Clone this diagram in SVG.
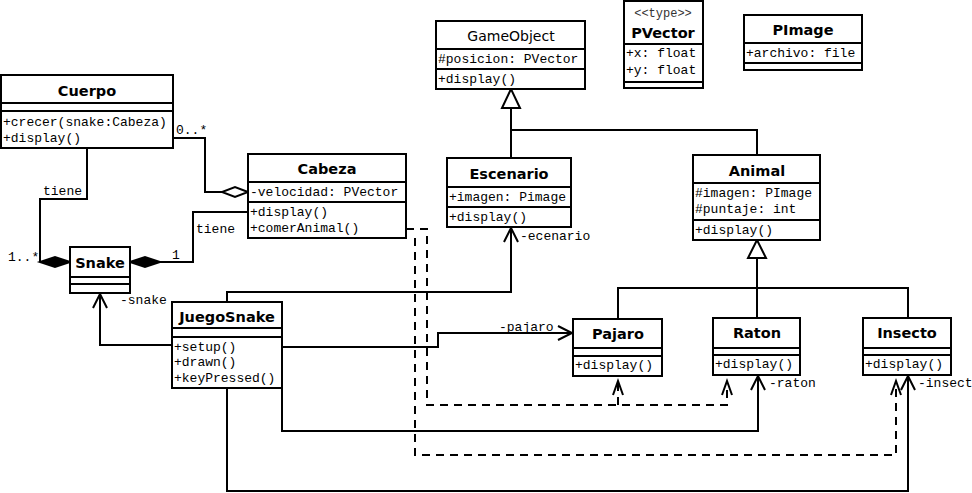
<svg xmlns="http://www.w3.org/2000/svg" width="972" height="493" viewBox="0 0 972 493">
<style>
.box{fill:#fff;stroke:#000;stroke-width:2}
.sep{stroke:#000;stroke-width:2}
.t{font-family:"DejaVu Sans",Verdana,sans-serif;font-weight:bold;font-size:14.5px;text-anchor:middle;fill:#000}
.tn{font-family:"DejaVu Sans",Verdana,sans-serif;font-size:14px;text-anchor:middle;fill:#000}
.m{font-family:"Liberation Mono","Courier New",monospace;font-size:13px;fill:#000}
.st{font-family:"Liberation Mono","Courier New",monospace;font-size:12px;fill:#333;text-anchor:middle}
.ln{fill:none;stroke:#000;stroke-width:2}
.dl{fill:none;stroke:#000;stroke-width:2;stroke-dasharray:8,6}
.hol{fill:#fff;stroke:#000;stroke-width:2}
.fil{fill:#000;stroke:#000;stroke-width:2}
</style>
<defs>
<marker id="open" markerUnits="userSpaceOnUse" markerWidth="30" markerHeight="30" refX="0" refY="0" orient="auto" viewBox="-20 -10 30 20" overflow="visible">
<path d="M-14,-7 L0,0 L-14,7" fill="none" stroke="#000" stroke-width="2"/>
</marker>
<marker id="dep" markerUnits="userSpaceOnUse" markerWidth="30" markerHeight="30" refX="0" refY="0" orient="auto" viewBox="-20 -10 30 20" overflow="visible">
<path d="M-14,-5 L0,0 L-14,5" fill="none" stroke="#000" stroke-width="2" stroke-dasharray="none"/>
</marker>
</defs>

<g id="connectors">
<!-- generalization GameObject -->
<path class="ln" d="M511,108 V158 M511,130 H757 V155"/>
<polygon class="hol" points="511,89 502,108 520,108"/>
<!-- generalization Animal -->
<path class="ln" d="M757,258 V318 M618,319 V288 H908 V318"/>
<polygon class="hol" points="757,240 748,258 766,258"/>
<!-- Cuerpo - Snake composition -->
<path class="ln" d="M87,148 V199 H40 V262"/>
<polygon class="fil" points="70,262 55,257 40,262 55,267"/>
<!-- Cabeza - Snake composition -->
<path class="ln" d="M248,212 H193 V262 H160"/>
<polygon class="fil" points="130,262 145,257 160,262 145,267"/>
<!-- Cuerpo - Cabeza aggregation -->
<path class="ln" d="M172,138 H205 V192 H222"/>
<polygon class="hol" points="248,192 235,187 222,192 235,197"/>
<!-- JuegoSnake associations -->
<path class="ln" d="M172,345 H100 V294" marker-end="url(#open)"/>
<path class="ln" d="M227,302 V292 H511 V228" marker-end="url(#open)"/>
<path class="ln" d="M282,347 H438 V333 H572" marker-end="url(#open)"/>
<path class="ln" d="M282,388 V431 H758 V376" marker-end="url(#open)"/>
<path class="ln" d="M227,388 V491 H908 V376" marker-end="url(#open)"/>
<!-- dependencies from Cabeza -->
<path class="dl" d="M406,229 H427 V405 H727 V381" marker-end="url(#dep)"/>
<path class="dl" d="M618,405 V381" marker-end="url(#dep)"/>
<path class="dl" d="M415,238 V455 H896 V381" marker-end="url(#dep)"/>
<!-- labels -->
<text class="m" x="176" y="134">0..*</text>
<text class="m" x="43" y="195">tiene</text>
<text class="m" x="8" y="261">1..*</text>
<text class="m" x="196" y="233">tiene</text>
<text class="m" x="172" y="259">1</text>
<text class="m" x="120" y="304">-snake</text>
<text class="m" x="520" y="240">-ecenario</text>
<text class="m" x="499" y="331">-pajaro</text>
<text class="m" x="769" y="387">-raton</text>
<text class="m" x="918" y="387">-insect</text>
</g>

<g id="Cuerpo">
<rect class="box" x="1" y="75" width="172" height="73"/>
<line class="sep" x1="1" y1="103" x2="173" y2="103"/>
<line class="sep" x1="1" y1="111" x2="173" y2="111"/>
<text class="t" x="87" y="96">Cuerpo</text>
<text class="m" x="3" y="126">+crecer(snake:Cabeza)</text>
<text class="m" x="3" y="142">+display()</text>
</g>

<g id="Cabeza">
<rect class="box" x="248" y="154" width="158" height="84"/>
<line class="sep" x1="248" y1="182" x2="406" y2="182"/>
<line class="sep" x1="248" y1="202" x2="406" y2="202"/>
<text class="t" x="327" y="174">Cabeza</text>
<text class="m" x="250" y="196">-velocidad: PVector</text>
<text class="m" x="250" y="216">+display()</text>
<text class="m" x="250" y="232">+comerAnimal()</text>
</g>

<g id="GameObject">
<rect class="box" x="436" y="21" width="149" height="68"/>
<line class="sep" x1="436" y1="49" x2="585" y2="49"/>
<line class="sep" x1="436" y1="69" x2="585" y2="69"/>
<text class="tn" x="511" y="41">GameObject</text>
<text class="m" x="438" y="63">#posicion: PVector</text>
<text class="m" x="438" y="83">+display()</text>
</g>

<g id="PVector">
<rect class="box" x="624" y="1" width="79" height="87"/>
<line class="sep" x1="624" y1="44" x2="703" y2="44"/>
<line class="sep" x1="624" y1="82" x2="703" y2="82"/>
<text class="st" x="663" y="17">&lt;&lt;type&gt;&gt;</text>
<text class="t" x="663" y="38">PVector</text>
<text class="m" x="626" y="57">+x: float</text>
<text class="m" x="626" y="74">+y: float</text>
</g>

<g id="PImage">
<rect class="box" x="744" y="15" width="118" height="55"/>
<line class="sep" x1="744" y1="43" x2="862" y2="43"/>
<line class="sep" x1="744" y1="63" x2="862" y2="63"/>
<text class="t" x="803" y="35">PImage</text>
<text class="m" x="746" y="57">+archivo: file</text>
</g>

<g id="Escenario">
<rect class="box" x="447" y="158" width="124" height="69"/>
<line class="sep" x1="447" y1="187" x2="571" y2="187"/>
<line class="sep" x1="447" y1="207" x2="571" y2="207"/>
<text class="t" x="509" y="179">Escenario</text>
<text class="m" x="449" y="201">+imagen: Pimage</text>
<text class="m" x="449" y="221">+display()</text>
</g>

<g id="Animal">
<rect class="box" x="693" y="155" width="127" height="85"/>
<line class="sep" x1="693" y1="183" x2="820" y2="183"/>
<line class="sep" x1="693" y1="220" x2="820" y2="220"/>
<text class="t" x="757" y="176">Animal</text>
<text class="m" x="695" y="197">#imagen: PImage</text>
<text class="m" x="695" y="213">#puntaje: int</text>
<text class="m" x="695" y="234">+display()</text>
</g>

<g id="Snake">
<rect class="box" x="70" y="247" width="60" height="46"/>
<line class="sep" x1="70" y1="277" x2="130" y2="277"/>
<line class="sep" x1="70" y1="284" x2="130" y2="284"/>
<text class="t" x="100" y="268">Snake</text>
</g>

<g id="JuegoSnake">
<rect class="box" x="172" y="302" width="110" height="86"/>
<line class="sep" x1="172" y1="328" x2="282" y2="328"/>
<line class="sep" x1="172" y1="337" x2="282" y2="337"/>
<text class="t" x="227" y="322">JuegoSnake</text>
<text class="m" x="174" y="351">+setup()</text>
<text class="m" x="174" y="366">+drawn()</text>
<text class="m" x="174" y="382">+keyPressed()</text>
</g>

<g id="Pajaro">
<rect class="box" x="573" y="319" width="89" height="57"/>
<line class="sep" x1="573" y1="348" x2="662" y2="348"/>
<line class="sep" x1="573" y1="356" x2="662" y2="356"/>
<text class="t" x="618" y="339">Pajaro</text>
<text class="m" x="575" y="369">+display()</text>
</g>

<g id="Raton">
<rect class="box" x="713" y="318" width="87" height="57"/>
<line class="sep" x1="713" y1="348" x2="800" y2="348"/>
<line class="sep" x1="713" y1="355" x2="800" y2="355"/>
<text class="t" x="757" y="338">Raton</text>
<text class="m" x="715" y="368">+display()</text>
</g>

<g id="Insecto">
<rect class="box" x="863" y="318" width="88" height="57"/>
<line class="sep" x1="863" y1="348" x2="951" y2="348"/>
<line class="sep" x1="863" y1="355" x2="951" y2="355"/>
<text class="t" x="907" y="338">Insecto</text>
<text class="m" x="865" y="368">+display()</text>
</g>
</svg>
